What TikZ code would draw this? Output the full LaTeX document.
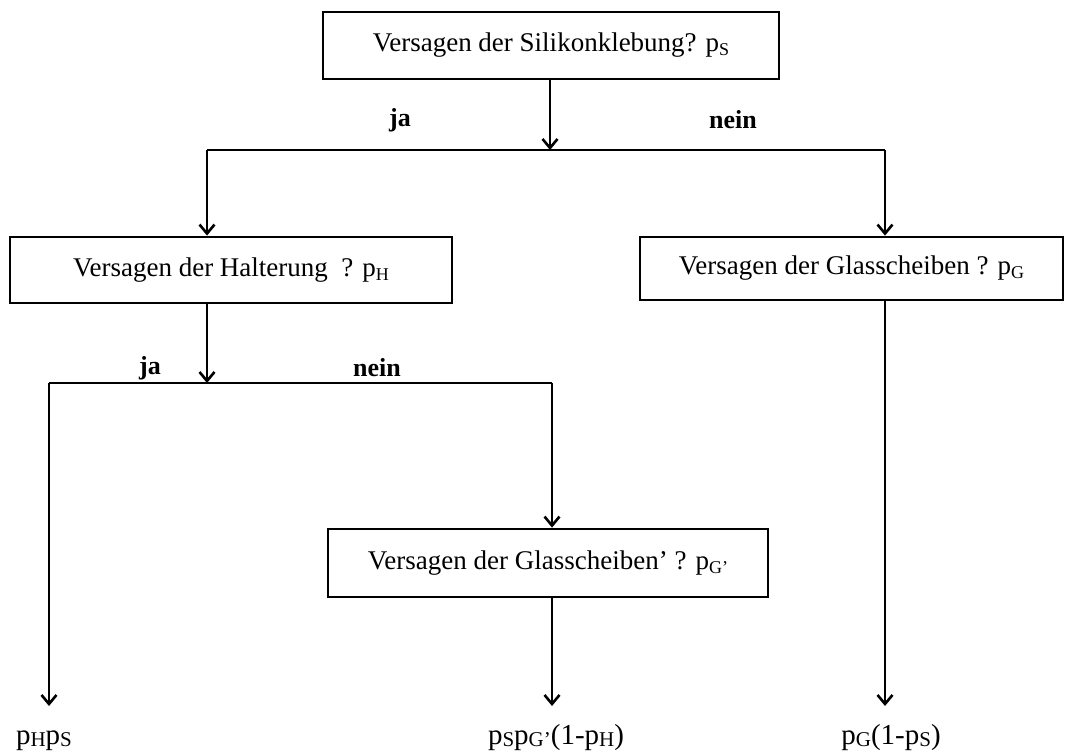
\documentclass[tikz,border=0pt]{standalone}
\usepackage{fontspec}
\setmainfont{Liberation Serif}
\usetikzlibrary{arrows.meta}
\newcommand\lsub[1]{\raisebox{-0.3ex}{\fontsize{18}{18}\selectfont #1}}
\newcommand\rsub[1]{\raisebox{-0.2ex}{\fontsize{21}{21}\selectfont #1}}
\tikzset{
  qbox/.style={draw, line width=2.8pt, minimum height=66pt, inner sep=0pt, font=\fontsize{27}{30}\selectfont},
  conn/.style={line width=2.6pt},
  arr/.style={line width=2.6pt, -{Straight Barb[length=9pt,width=15pt,line width=2.6pt]}},
  lab/.style={font=\bfseries\fontsize{26}{28}\selectfont, inner sep=0pt},
  res/.style={font=\fontsize{29}{31}\selectfont, inner sep=0pt, anchor=base}
}
\begin{document}
\begin{tikzpicture}[x=1pt,y=-1pt]
\useasboundingbox (0,0) rectangle (1085,752);
\fill[white] (0,0) rectangle (1085,752);
\node[qbox, minimum width=456pt, minimum height=67pt] (s) at (551,45.5) {Versagen der Silikonklebung? p\lsub{S}};
\node[qbox, minimum width=442pt] (h) at (231,270) {Versagen der Halterung\ \ ? p\lsub{H}};
\node[qbox, minimum width=423pt, minimum height=63pt] (g) at (851.5,268.5) {Versagen der Glasscheiben ? p\lsub{G}};
\node[qbox, minimum width=440pt, minimum height=68pt] (gg) at (548,563) {Versagen der Glasscheiben’ ? p\lsub{G’}};

\coordinate (j1) at (550,150);
\coordinate (l1) at (207,150);
\coordinate (r1) at (885,150);
\coordinate (j2) at (207,383);
\coordinate (l2) at (49,383);
\coordinate (r2) at (552,383);
\coordinate (e1) at (49,706);
\coordinate (e2) at (552,706);
\coordinate (e3) at (885,706);

\draw[arr] (s.south -| j1) -- (j1);
\draw[conn] (l1) -- (r1);
\draw[arr] (l1) -- (l1 |- h.north);
\draw[arr] (r1) -- (r1 |- g.north);
\draw[arr] (h.south -| j2) -- (j2);
\draw[conn] (l2) -- (r2);
\draw[arr] (l2) -- (e1);
\draw[arr] (r2) -- (r2 |- gg.north);
\draw[arr] (gg.south -| e2) -- (e2);
\draw[arr] (g.south -| e3) -- (e3);

\node[lab] (ja1) at (400,120) {ja};
\node[lab] (ne1) at (733,120) {nein};
\node[lab] (ja2) at (150,368) {ja};
\node[lab] (ne2) at (377,368) {nein};

\node[res] (o1) at (44,744) {p\rsub{H}p\rsub{S}};
\node[res] (o2) at (556,744) {p\rsub{S}p\rsub{G’}(1-p\rsub{H})};
\node[res] (o3) at (891,744) {p\rsub{G}(1-p\rsub{S})};
\end{tikzpicture}
\end{document}
